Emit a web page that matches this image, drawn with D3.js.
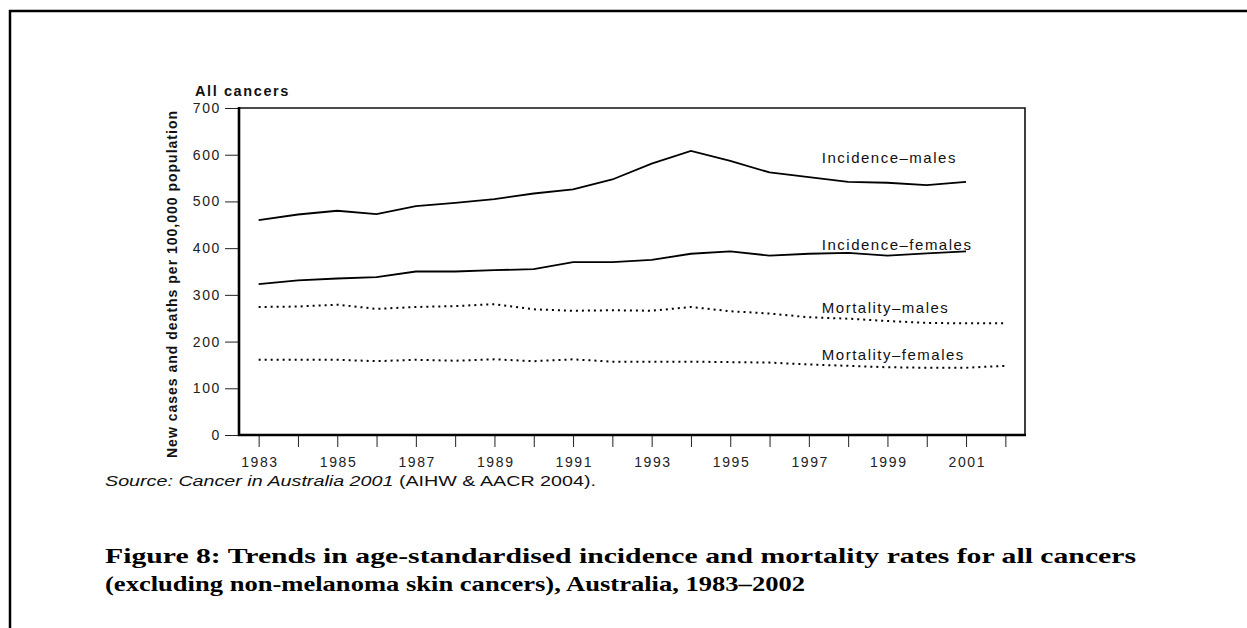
<!DOCTYPE html>
<html>
<head>
<meta charset="utf-8">
<script src="https://cdn.jsdelivr.net/npm/d3@7"></script>
<style>
  body { margin: 0; background: #fff; }
  svg { display: block; }
</style>
</head>
<body>
<div id="here"></div>
<script>
var W = 1247, H = 628;

// data
var years = d3.range(1983, 2003);
var incMales   = [460, 472, 480, 473, 490, 497, 505, 517, 526, 547, 581, 608, 587, 562, 552, 542, 540, 535, 542];
var incFemales = [323, 331, 335, 338, 350, 350, 353, 355, 370, 370, 375, 388, 393, 384, 388, 390, 384, 389, 393];
var morMales   = [274, 275, 279, 270, 274, 276, 280, 269, 266, 267, 266, 274, 265, 260, 252, 249, 244, 240, 239, 239];
var morFemales = [161, 161, 161, 158, 161, 159, 162, 158, 162, 157, 157, 157, 156, 155, 151, 148, 145, 144, 144, 148];
var yTicks = [0, 100, 200, 300, 400, 500, 600, 700];
var seriesNames = ['Incidence\u2013males', 'Incidence\u2013females', 'Mortality\u2013males', 'Mortality\u2013females'];

var series = [
  {name: seriesNames[0], values: incMales, dotted: false, labelAt: 582},
  {name: seriesNames[1], values: incFemales, dotted: false, labelAt: 396},
  {name: seriesNames[2], values: morMales, dotted: true, labelAt: 262},
  {name: seriesNames[3], values: morFemales, dotted: true, labelAt: 160}
];

var pL = 239, pT = 108, pR = 1025, pB = 435;

var x = d3.scaleLinear().domain([1982.5, 2002.5]).range([pL, pR]);
var y = d3.scaleLinear().domain([0, 700]).range([pB, pT]);

var svg = d3.select('#here').append('svg')
  .attr('width', W)
  .attr('height', H)
  .style('font-family', '"Liberation Sans", Arial, sans-serif');

// page frame (top + left)
svg.append('path')
  .attr('d', 'M10,' + H + 'V11H' + W)
  .attr('fill', 'none')
  .attr('stroke', '#000')
  .attr('stroke-width', 2.5);

// y axis
var yAxis = svg.append('g')
  .attr('transform', 'translate(' + pL + ',0)')
  .call(d3.axisLeft(y).tickValues(yTicks).tickSize(14).tickPadding(4));
yAxis.select('.domain').remove();
yAxis.selectAll('line').attr('stroke', '#222').attr('stroke-width', 1);
yAxis.selectAll('text')
  .attr('fill', '#222')
  .style('font-size', '14px')
  .style('letter-spacing', '1.6px')
  .style('font-family', '"Liberation Sans", Arial, sans-serif');

// x axis
var xAxis = svg.append('g')
  .attr('transform', 'translate(0,' + pB + ')')
  .call(d3.axisBottom(x).tickValues(years).tickSize(12).tickPadding(10)
    .tickFormat(function(d) { return d % 2 === 1 ? d : ''; }));
xAxis.select('.domain').remove();
xAxis.selectAll('line').attr('stroke', '#222').attr('stroke-width', 1);
xAxis.selectAll('text')
  .attr('fill', '#222')
  .attr('dx', '0.8px')
  .style('font-size', '14px')
  .style('letter-spacing', '1.6px')
  .style('font-family', '"Liberation Sans", Arial, sans-serif');

// plot box: top/right thin, left/bottom heavy
svg.append('path')
  .attr('d', 'M' + pL + ',' + pT + 'H' + pR + 'V' + pB)
  .attr('fill', 'none').attr('stroke', '#111').attr('stroke-width', 1.6);
svg.append('path')
  .attr('d', 'M' + pL + ',' + (pT - 1) + 'V' + pB + 'H' + (pR + 1))
  .attr('fill', 'none').attr('stroke', '#000').attr('stroke-width', 2.6);

// lines
var line = d3.line()
  .x(function(d, i) { return x(years[i]); })
  .y(function(d) { return y(d); });

svg.selectAll('.series')
  .data(series)
  .enter().append('path')
  .attr('class', 'series')
  .attr('d', function(d) { return line(d.values); })
  .attr('fill', 'none')
  .attr('stroke', '#000')
  .attr('stroke-width', function(d) { return d.dotted ? 2 : 1.8; })
  .attr('stroke-dasharray', function(d) { return d.dotted ? '2,4' : null; });

svg.selectAll('.lab')
  .data(series)
  .enter().append('text')
  .attr('class', 'lab')
  .attr('x', x(1997.33))
  .attr('y', function(d) { return y(d.labelAt); })
  .attr('fill', '#111')
  .style('font-size', '15px')
  .style('letter-spacing', '1.5px')
  .text(function(d) { return d.name; });

// chart title
svg.append('text')
  .attr('x', 195).attr('y', 96)
  .attr('fill', '#111')
  .style('font-size', '14.5px')
  .style('font-weight', 'bold')
  .style('letter-spacing', '1.6px')
  .text('All cancers');

// y axis title
svg.append('text')
  .attr('transform', 'translate(177,284) rotate(-90)')
  .attr('text-anchor', 'middle')
  .attr('fill', '#111')
  .style('font-size', '14px')
  .style('font-weight', 'bold')
  .style('letter-spacing', '1px')
  .text('New cases and deaths per 100,000 population');

// source line
var src = svg.append('text')
  .attr('x', 105).attr('y', 486)
  .attr('textLength', 491)
  .attr('lengthAdjust', 'spacingAndGlyphs')
  .attr('fill', '#111')
  .style('font-size', '14px');
src.append('tspan').style('font-style', 'italic').text('Source: Cancer in Australia 2001');
src.append('tspan').text(' (AIHW & AACR 2004).');

// caption
var cap = ['Figure 8: Trends in age-standardised incidence and mortality rates for all cancers',
           '(excluding non-melanoma skin cancers), Australia, 1983\u20132002'];
var capW = [1031, 700];
svg.selectAll('.cap')
  .data(cap)
  .enter().append('text')
  .attr('class', 'cap')
  .attr('x', 105)
  .attr('y', function(d, i) { return 563 + i * 28; })
  .attr('textLength', function(d, i) { return capW[i]; })
  .attr('lengthAdjust', 'spacingAndGlyphs')
  .attr('fill', '#000')
  .style('font-family', '"Liberation Serif", "Times New Roman", serif')
  .style('font-weight', 'bold')
  .style('font-size', '21px')
  .text(function(d) { return d; });
</script>
</body>
</html>
